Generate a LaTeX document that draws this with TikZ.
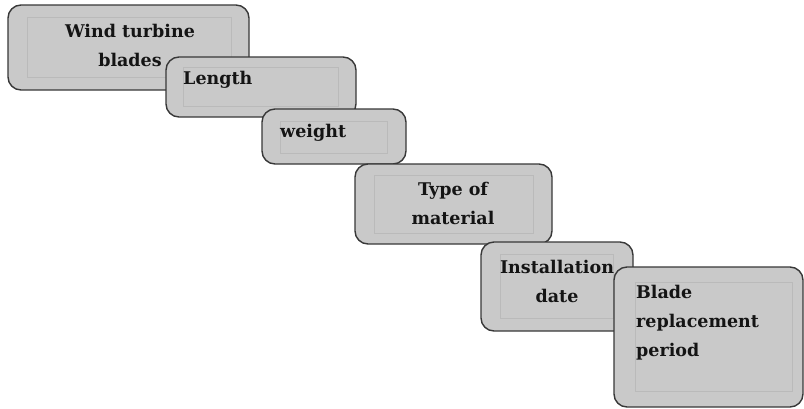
\documentclass[tikz,border=0pt]{standalone}
\usepackage{fontspec}
\setmainfont{DejaVu Serif}
\begin{document}
\begin{tikzpicture}[x=1pt,y=-1pt,
  box/.style={draw=black!78, fill=black!21, line width=1.4pt, rounded corners=13pt, inner sep=0pt},
  inner/.style={draw=black!27, line width=0.6pt, inner sep=0pt},
  lbl/.style={font=\fontsize{17.5}{29}\selectfont\bfseries, text=black!92, inner sep=0pt, anchor=center}]
\useasboundingbox (0,0) rectangle (804,408);
% box 1
\node[box, minimum width=241pt, minimum height=85pt] (b1) at (128.5,47.5) {};
\node[inner, minimum width=204pt, minimum height=60pt] (i1) at (129,47) {};
\node[lbl, align=center] (t1) at (130,45) {Wind turbine\\blades};
% box 2
\node[box, minimum width=190pt, minimum height=60pt] (b2) at (261,87) {};
\node[inner, minimum width=155pt, minimum height=39pt] (i2) at (260.5,86.5) {};
\node[lbl, anchor=west] (t2) at (183,80) {Length};
% box 3
\node[box, minimum width=144pt, minimum height=55pt] (b3) at (334,136.5) {};
\node[inner, minimum width=107pt, minimum height=32pt] (i3) at (333.5,137) {};
\node[lbl, anchor=west] (t3) at (280,133) {weight};
% box 4
\node[box, minimum width=197pt, minimum height=80pt] (b4) at (453.5,204) {};
\node[inner, minimum width=159pt, minimum height=58pt] (i4) at (453.5,204) {};
\node[lbl, align=center] (t4) at (453,203) {Type of\\material};
% box 5
\node[box, minimum width=152pt, minimum height=89pt] (b5) at (557,286.5) {};
\node[inner, minimum width=113pt, minimum height=64pt] (i5) at (556.5,286) {};
\node[lbl, align=center] (t5) at (557,281) {Installation\\date};
% box 6
\node[box, minimum width=189pt, minimum height=140pt] (b6) at (708.5,337) {};
\node[inner, minimum width=157pt, minimum height=109pt] (i6) at (713.5,336.5) {};
\node[lbl, align=left, anchor=west] (t6) at (636,323) {Blade\\replacement\\period};
\end{tikzpicture}
\end{document}
